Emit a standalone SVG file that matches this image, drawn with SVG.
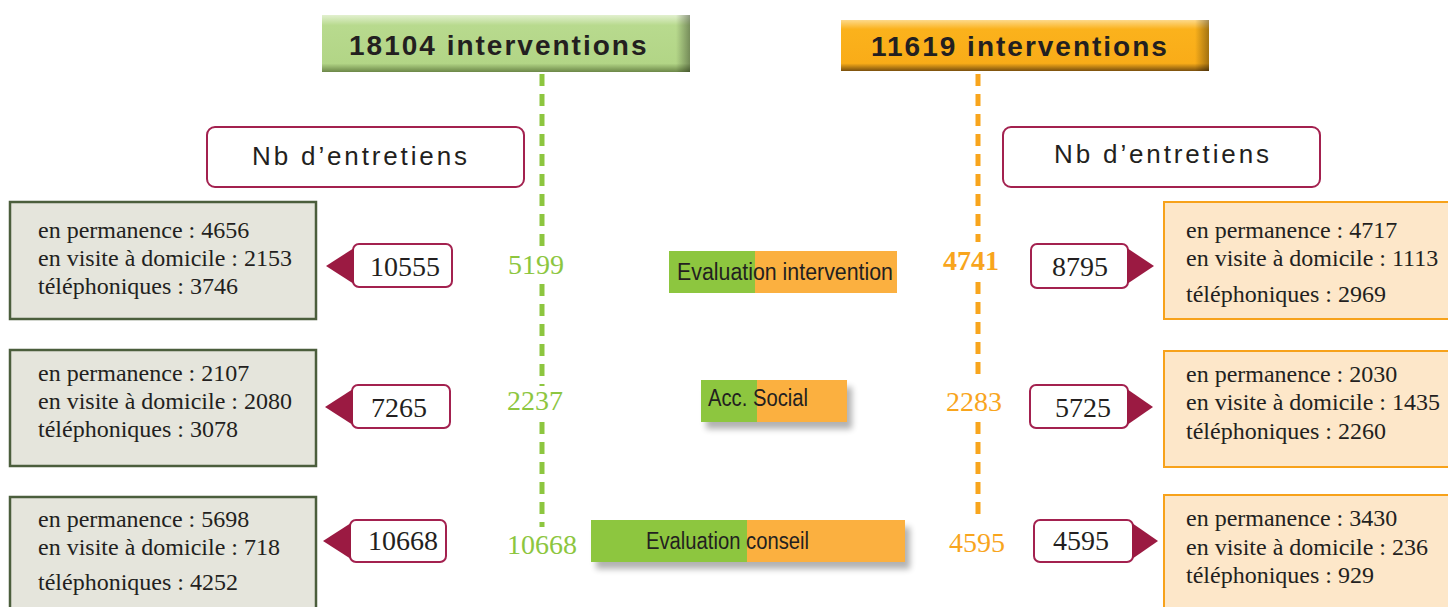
<svg xmlns="http://www.w3.org/2000/svg" width="1448" height="607" viewBox="0 0 1448 607">
<defs>
<linearGradient id="gG" x1="0" y1="0" x2="0" y2="1">
<stop offset="0" stop-color="#e2f0cf"/><stop offset="0.18" stop-color="#b8da8e"/><stop offset="0.85" stop-color="#b2d586"/><stop offset="1" stop-color="#6c8748"/>
</linearGradient>
<linearGradient id="gO" x1="0" y1="0" x2="0" y2="1">
<stop offset="0" stop-color="#fdd98a"/><stop offset="0.18" stop-color="#fbb21c"/><stop offset="0.85" stop-color="#f9ac18"/><stop offset="1" stop-color="#7a500e"/>
</linearGradient>
<linearGradient id="gR" x1="0" y1="0" x2="1" y2="0">
<stop offset="0" stop-color="#000" stop-opacity="0"/><stop offset="1" stop-color="#000" stop-opacity="0.35"/>
</linearGradient>
<filter id="blur" x="-20%" y="-50%" width="140%" height="200%"><feGaussianBlur stdDeviation="3"/></filter>
</defs>
<style>
.hdr{font-family:"Liberation Sans",Arial,sans-serif;font-weight:bold;font-size:28px;fill:#231f20;letter-spacing:2px}
.nb{font-family:"Liberation Sans",Arial,sans-serif;font-size:26px;fill:#231f20;letter-spacing:1px}
.nbbox{fill:#fff;stroke:#a3214f;stroke-width:2}
.lbox{fill:#e5e5dc;stroke:#4b5e3c;stroke-width:2.5}
.rbox{fill:#fde7c9;stroke:#f7a21b;stroke-width:2}
.det{font-family:"Liberation Serif","Times New Roman",serif;font-size:24px;fill:#231f20}
.cbox{fill:#fff;stroke:#a3214f;stroke-width:2}
.tri{fill:#9b1a42}
.cnum{font-family:"Liberation Serif","Times New Roman",serif;font-size:28px;fill:#231f20;text-anchor:middle}
.gnum{font-family:"Liberation Serif","Times New Roman",serif;font-size:28px;fill:#8dc63f;text-anchor:middle}
.onum{font-family:"Liberation Serif","Times New Roman",serif;font-size:28px;fill:#f8a51d;text-anchor:middle}
.bar{font-family:"Liberation Sans",Arial,sans-serif;font-size:23px;fill:#231f20}
.gdash{stroke:#8dc63f;stroke-width:5;stroke-dasharray:12 8;fill:none}
.odash{stroke:#f8a51d;stroke-width:5;stroke-dasharray:12 8;fill:none}
.shadow{fill:#000;opacity:0.3}
</style>

<g id="connectors">
<line class="gdash" x1="542" y1="74" x2="542" y2="246"/>
<line class="gdash" x1="542" y1="284" x2="542" y2="386"/>
<line class="gdash" x1="542" y1="422" x2="542" y2="527"/>
<line class="odash" x1="978" y1="74" x2="978" y2="242"/>
<line class="odash" x1="978" y1="282" x2="978" y2="382"/>
<line class="odash" x1="978" y1="422" x2="978" y2="522"/>
</g>

<g id="header-left">
<rect x="322" y="15" width="368" height="57" fill="url(#gG)"/>
<rect x="676" y="15" width="14" height="57" fill="url(#gR)"/>
<text class="hdr" x="349" y="55">18104 interventions</text>
</g>
<g id="header-right">
<rect x="841" y="20" width="368" height="51" fill="url(#gO)"/>
<rect x="1195" y="20" width="14" height="51" fill="url(#gR)"/>
<text class="hdr" x="871" y="56">11619 interventions</text>
</g>

<g id="nb-left">
<rect class="nbbox" x="207" y="127" width="317" height="60" rx="8"/>
<text class="nb" x="252" y="165" textLength="216">Nb d’entretiens</text>
</g>
<g id="nb-right">
<rect class="nbbox" x="1003" y="127" width="317" height="60" rx="8"/>
<text class="nb" x="1054" y="163" textLength="216">Nb d’entretiens</text>
</g>

<g id="left-detail-1">
<rect class="lbox" x="10" y="202" width="306" height="117"/>
<text class="det" x="38" y="238">en permanence : 4656</text>
<text class="det" x="38" y="266">en visite à domicile : 2153</text>
<text class="det" x="38" y="294">téléphoniques : 3746</text>
</g>
<g id="left-detail-2">
<rect class="lbox" x="10" y="350" width="306" height="116"/>
<text class="det" x="38" y="381">en permanence : 2107</text>
<text class="det" x="38" y="409">en visite à domicile : 2080</text>
<text class="det" x="38" y="437">téléphoniques : 3078</text>
</g>
<g id="left-detail-3">
<rect class="lbox" x="10" y="497" width="306" height="115"/>
<text class="det" x="38" y="527">en permanence : 5698</text>
<text class="det" x="38" y="555">en visite à domicile : 718</text>
<text class="det" x="38" y="590">téléphoniques : 4252</text>
</g>

<g id="left-callout-1">
<rect class="cbox" x="353" y="244" width="99" height="43" rx="6"/>
<polygon class="tri" points="326,266 354,248 354,284"/>
<text class="cnum" x="405" y="276">10555</text>
</g>
<g id="left-callout-2">
<rect class="cbox" x="352" y="385" width="98" height="43" rx="6"/>
<polygon class="tri" points="325,407 353,389 353,425"/>
<text class="cnum" x="399" y="417">7265</text>
</g>
<g id="left-callout-3">
<rect class="cbox" x="350" y="520" width="96" height="42" rx="6"/>
<polygon class="tri" points="323,541 351,523 351,559"/>
<text class="cnum" x="403" y="550">10668</text>
</g>

<g id="green-values">
<text class="gnum" x="536" y="274">5199</text>
<text class="gnum" x="535" y="410">2237</text>
<text class="gnum" x="542" y="554">10668</text>
</g>
<g id="orange-values">
<text class="onum" x="971" y="270" font-weight="bold">4741</text>
<text class="onum" x="974" y="411">2283</text>
<text class="onum" x="977" y="552">4595</text>
</g>

<g id="bar-evaluation-intervention">
<rect x="669" y="251" width="86" height="42" fill="#8dc63f"/>
<rect x="755" y="251" width="142" height="42" fill="#fbb040"/>
<text class="bar" x="677" y="280" textLength="216" lengthAdjust="spacingAndGlyphs">Evaluation intervention</text>
</g>
<g id="bar-acc-social">
<rect class="shadow" x="706" y="387" width="146" height="42" filter="url(#blur)"/>
<rect x="701" y="380" width="56" height="42" fill="#8dc63f"/>
<rect x="757" y="380" width="90" height="42" fill="#fbb040"/>
<text class="bar" x="708" y="406" textLength="100" lengthAdjust="spacingAndGlyphs">Acc. Social</text>
</g>
<g id="bar-evaluation-conseil">
<rect class="shadow" x="596" y="527" width="314" height="42" filter="url(#blur)"/>
<rect x="591" y="520" width="156" height="42" fill="#8dc63f"/>
<rect x="747" y="520" width="158" height="42" fill="#fbb040"/>
<text class="bar" x="646" y="549" textLength="163" lengthAdjust="spacingAndGlyphs">Evaluation conseil</text>
</g>

<g id="right-callout-1">
<rect class="cbox" x="1031" y="244" width="97" height="44" rx="6"/>
<polygon class="tri" points="1154,266 1127,248 1127,284"/>
<text class="cnum" x="1080" y="276">8795</text>
</g>
<g id="right-callout-2">
<rect class="cbox" x="1030" y="385" width="98" height="43" rx="6"/>
<polygon class="tri" points="1153,407 1127,389 1127,425"/>
<text class="cnum" x="1083" y="417">5725</text>
</g>
<g id="right-callout-3">
<rect class="cbox" x="1034" y="520" width="99" height="42" rx="6"/>
<polygon class="tri" points="1158,541 1132,523 1132,559"/>
<text class="cnum" x="1081" y="550">4595</text>
</g>

<g id="right-detail-1">
<rect class="rbox" x="1164" y="202" width="290" height="117"/>
<text class="det" x="1186" y="238">en permanence : 4717</text>
<text class="det" x="1186" y="266">en visite à domicile : 1113</text>
<text class="det" x="1186" y="302">téléphoniques : 2969</text>
</g>
<g id="right-detail-2">
<rect class="rbox" x="1164" y="351" width="290" height="116"/>
<text class="det" x="1186" y="382">en permanence : 2030</text>
<text class="det" x="1186" y="410">en visite à domicile : 1435</text>
<text class="det" x="1186" y="439">téléphoniques : 2260</text>
</g>
<g id="right-detail-3">
<rect class="rbox" x="1164" y="495" width="290" height="117"/>
<text class="det" x="1186" y="526">en permanence : 3430</text>
<text class="det" x="1186" y="555">en visite à domicile : 236</text>
<text class="det" x="1186" y="583">téléphoniques : 929</text>
</g>
</svg>
